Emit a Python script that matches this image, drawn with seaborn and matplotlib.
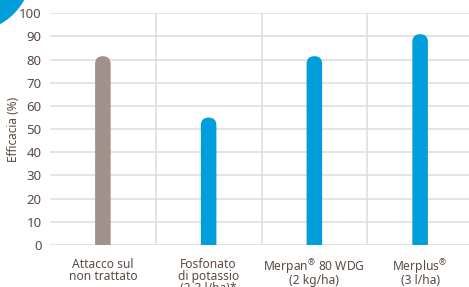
import matplotlib
matplotlib.use("Agg")
import matplotlib.pyplot as plt
import seaborn as sns
import pandas as pd
from matplotlib.patches import FancyBboxPatch, Circle
from matplotlib.transforms import IdentityTransform

categories = ["Attacco sul\nnon trattato", "Fosfonato\ndi potassio\n(2-3 l/ha)*",
              "Merpan$^{®}$ 80 WDG\n(2 kg/ha)", "Merplus$^{®}$\n(3 l/ha)"]
values = [81.5, 55, 81.5, 91]
colors = ["#A0928A", "#009EDB", "#009EDB", "#009EDB"]
yticks = [0, 10, 20, 30, 40, 50, 60, 70, 80, 90, 100]

text_color = "#5B4A42"
sns.set_theme(style="white")
plt.rcParams['font.family'] = ['Noto Sans', 'DejaVu Sans']
plt.rcParams['mathtext.fontset'] = 'custom'
plt.rcParams['mathtext.rm'] = 'Noto Sans'
plt.rcParams['mathtext.it'] = 'Noto Sans'

fig = plt.figure(figsize=(4.69, 2.87), dpi=100)
ax = fig.add_axes([50/469, 42/287, 423/469, 231.7/287])

df = pd.DataFrame({"cat": categories, "val": values})
sns.barplot(data=df, x="cat", y="val", hue="cat", palette=colors, legend=False,
            width=0.147, ax=ax, saturation=1)

ax.set_ylim(0, 100)
ax.set_xlim(-0.5, 3.5)
ax.set_yticks(yticks)
ax.set_ylabel("Efficacia (%)", color=text_color, fontsize=8.5)
ax.yaxis.set_label_coords(-0.071, 0.5)
ax.set_xlabel("")
ax.tick_params(axis="y", colors=text_color, labelsize=9.5, length=0, pad=6)
ax.tick_params(axis="x", colors=text_color, labelsize=8.7, length=0, pad=9)
for lbl in ax.get_xticklabels():
    if "$" in lbl.get_text():
        lbl.set_linespacing(0.8)
    else:
        lbl.set_linespacing(0.95)
for s in ax.spines.values():
    s.set_visible(False)

# grid
for y in yticks:
    ax.axhline(y, color="#DCDCDC", lw=1.1, zorder=0)
for x in [0.5, 1.5, 2.5]:
    ax.axvline(x, color="#DCDCDC", lw=1.1, zorder=0)

# rounded bar tops
fig.canvas.draw()
p0 = ax.transData.transform((0, 0))
p1 = ax.transData.transform((1, 1))
aspect = (p1[0] - p0[0]) / (p1[1] - p0[1])
patches = list(ax.patches)
for p in patches:
    x, w, h = p.get_x(), p.get_width(), p.get_height()
    c = p.get_facecolor()
    p.remove()
    r = w / 2
    fb = FancyBboxPatch((x, -r * aspect * 2), w, h + r * aspect * 2,
                        boxstyle=f"round,pad=0,rounding_size={r}",
                        mutation_aspect=aspect, facecolor=c, edgecolor="none",
                        zorder=3, clip_on=True)
    ax.add_patch(fb)

# decorative corner
fig.patches.append(Circle((-30, 287 + 30), 62, transform=IdentityTransform(),
                          facecolor="#009EDB", edgecolor="none", figure=fig))

fig.savefig("out.png", dpi=100)
